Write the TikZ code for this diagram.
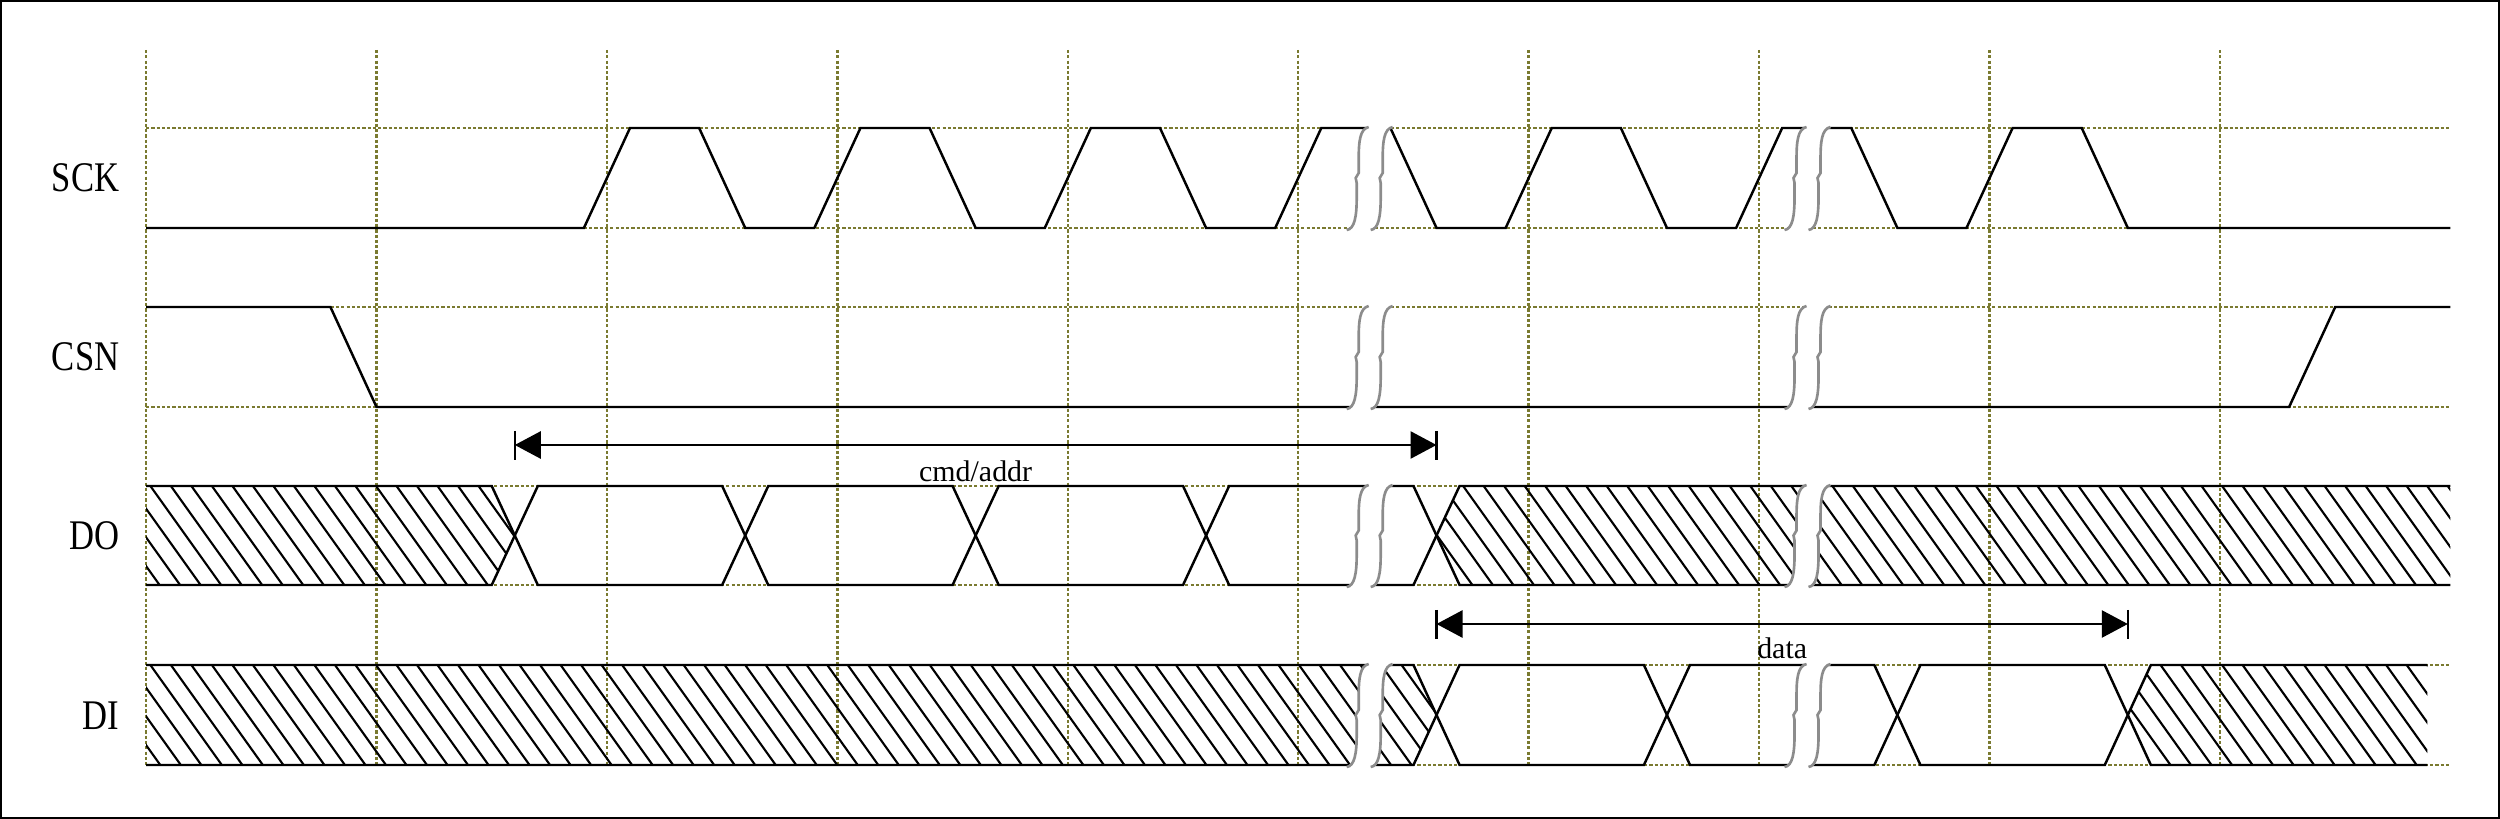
\documentclass[tikz,border=0pt]{standalone}
\usepackage{fontspec}
\setmainfont{Liberation Serif}
\newfontfamily\lblfont[FakeStretch=0.82]{Liberation Serif}
\usetikzlibrary{arrows.meta}
\definecolor{gridolive}{RGB}{122,122,48}
\definecolor{brkgray}{RGB}{140,140,140}
\tikzset{
  gridline/.style={gridolive, line width=0.7pt, dash pattern=on 0.9pt off 0.6pt},
  wave/.style={black, line width=0.7pt, line join=miter},
  hatchline/.style={black, line width=0.6pt},
  bracecurve/.style={brkgray, line width=0.75pt},
  sig/.style={font=\lblfont\fontsize{12}{14}\selectfont, anchor=base east, inner sep=0pt},
  note/.style={font=\fontsize{8.5}{10}\selectfont, anchor=base, inner sep=0pt},
  dimline/.style={line width=0.7pt, {Triangle[length=7.4pt,width=7.7pt]}-{Triangle[length=7.4pt,width=7.7pt]}},
  barline/.style={line width=0.7pt},
}
% hatched region: #1 clip path, #2 top y of row
\newcommand\hatchrow[2]{%
  \begin{scope}
    \clip #1;
    \foreach \i in {-5,...,114}{
      \draw[hatchline] ({\i*20.5/230.3}, #2-6) -- ++({80/230.3}, 112);
    }
  \end{scope}}
% break mark: #1 t centre, #2 top y, #3 bottom y
\newcommand\breakmark[3]{%
  \begin{scope}[shift={(#1,0)}, x=0.01cm]
    \pgfmathsetmacro\bym{(#2+#3)/2}
    \fill[white] (-1,#2-3) -- (23,#2-3) -- (23,#2-1)
      .. controls (14,#2+1) and (13,#2+14) .. (13,#2+32) -- (13,\bym-5) -- (10,\bym) -- (11,\bym+5) -- (11,#3-30)
      .. controls (11,#3-12) and (9,#3+1) .. (1,#3+2) -- (1,#3+4) -- (-23,#3+4) -- (-23,#3+2)
      .. controls (-15,#3+1) and (-13,#3-12) .. (-13,#3-30) -- (-13,\bym+5) -- (-14,\bym) -- (-11,\bym-5) -- (-11,#2+32)
      .. controls (-11,#2+14) and (-10,#2+1) .. (-1,#2-1) -- cycle;
    \draw[bracecurve] (-1,#2-1) .. controls (-10,#2+1) and (-11,#2+14) .. (-11,#2+32) -- (-11,\bym-5) -- (-14,\bym) -- (-13,\bym+5) -- (-13,#3-30)
      .. controls (-13,#3-12) and (-15,#3+1) .. (-23,#3+2);
    \draw[bracecurve] (23,#2-1) .. controls (14,#2+1) and (13,#2+14) .. (13,#2+32) -- (13,\bym-5) -- (10,\bym) -- (11,\bym+5) -- (11,#3-30)
      .. controls (11,#3-12) and (9,#3+1) .. (1,#3+2);
  \end{scope}}
\begin{document}
\begin{tikzpicture}[x=0.01cm, y=-0.01cm]
\useasboundingbox (0,0) rectangle (2500,819);
\draw[line width=0.6pt] (1,1) rectangle (2499,818);
% signal names
\node[sig] (lsck) at (120,192) {SCK};
\node[sig] (lcsn) at (120,371) {CSN};
\node[sig] (ldo) at (120,550) {DO};
\node[sig] (ldi) at (120,729) {DI};

\begin{scope}[xshift=1.46cm, x=2.303cm]
  % grid
  \foreach \t in {0,...,9} \draw[gridline] (\t,50) -- (\t,765);
  \foreach \yy in {128,228,307,407,486,585,665,765} \draw[gridline] (0,\yy) -- (10,\yy);

  % hatching
  \hatchrow{(0,486) -- (1.5,486) -- (1.6,535.5) -- (1.5,585) -- (0,585) -- cycle}{486}
  \hatchrow{(5.6,535.5) -- (5.7,486) -- (10,486) -- (10,585) -- (5.7,585) -- cycle}{486}
  \hatchrow{(0,665) -- (5.5,665) -- (5.6,715) -- (5.5,765) -- (0,765) -- cycle}{665}
  \hatchrow{(8.6,715) -- (8.7,665) -- (9.9,665) -- (9.9,765) -- (8.7,765) -- cycle}{665}

  % SCK
  \draw[wave] (0,228) \foreach \k in {2,...,8}{ -- (\k-0.1,228) -- (\k+0.1,128) -- (\k+0.4,128) -- (\k+0.6,228) } -- (10,228);
  % CSN
  \draw[wave] (0,307) -- (0.8,307) -- (1,407) -- (9.3,407) -- (9.5,307) -- (10,307);
  % DO
  \draw[wave] (0,486) -- (1.5,486) -- (1.6,535.5) -- (1.5,585) -- (0,585);
  \foreach \a/\b in {1.6/2.6, 2.6/3.6, 3.6/4.6, 4.6/5.6}
    \draw[wave] (\a,535.5) -- (\a+0.1,486) -- (\b-0.1,486) -- (\b,535.5) -- (\b-0.1,585) -- (\a+0.1,585) -- cycle;
  \draw[wave] (10,486) -- (5.7,486) -- (5.6,535.5) -- (5.7,585) -- (10,585);
  % DI
  \draw[wave] (0,665) -- (5.5,665) -- (5.6,715) -- (5.5,765) -- (0,765);
  \foreach \a/\b in {5.6/6.6, 6.6/7.6, 7.6/8.6}
    \draw[wave] (\a,715) -- (\a+0.1,665) -- (\b-0.1,665) -- (\b,715) -- (\b-0.1,765) -- (\a+0.1,765) -- cycle;
  \draw[wave] (9.9,665) -- (8.7,665) -- (8.6,715) -- (8.7,765) -- (9.9,765);

  % dimension arrows
  \coordinate (ca) at (1.6,445);
  \coordinate (cb) at (5.6,445);
  \draw[dimline] (ca) -- (cb);
  \draw[barline] (ca) ++(0,-14) -- ++(0,29);
  \draw[barline] (cb) ++(0,-14) -- ++(0,29);
  \node[note] (lcmd) at (3.6,482) {cmd/addr};

  \coordinate (da) at (5.6,624);
  \coordinate (db) at (8.6,624);
  \draw[dimline] (da) -- (db);
  \draw[barline] (da) ++(0,-14) -- ++(0,29);
  \draw[barline] (db) ++(0,-14) -- ++(0,29);
  \node[note] (ldata) at (7.1,659) {data};

  % breaks
  \foreach \bt in {5.31,7.21}{
    \foreach \yt/\yb in {128/228, 307/407, 486/585, 665/765}{
      \breakmark{\bt}{\yt}{\yb}
    }
  }
\end{scope}
\end{tikzpicture}
\end{document}
